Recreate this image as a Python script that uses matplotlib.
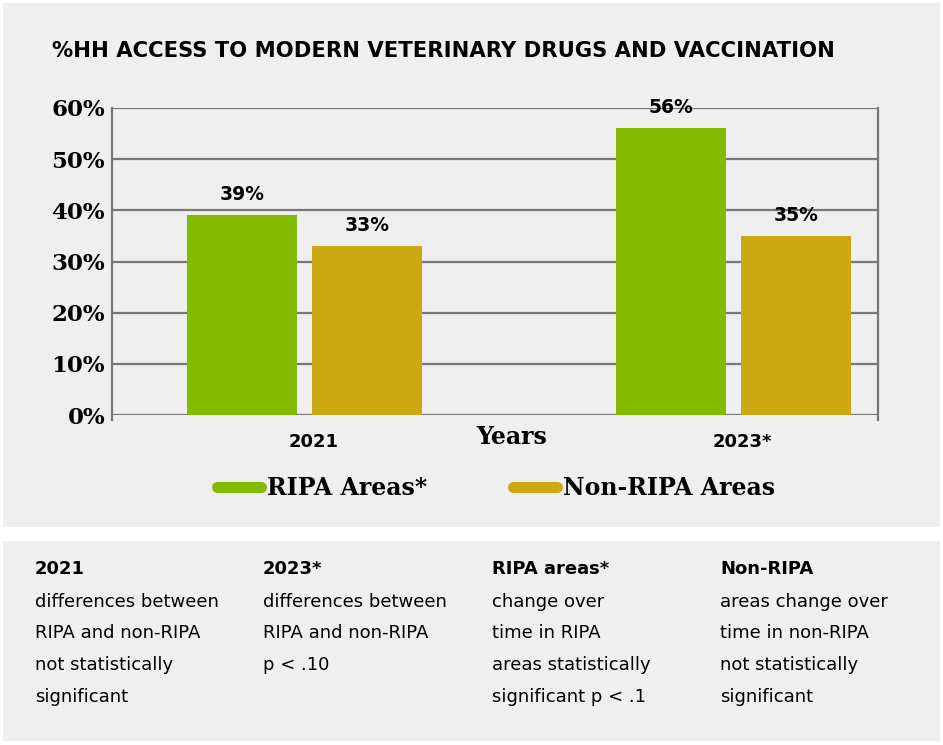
import matplotlib.pyplot as plt
from matplotlib.patches import Rectangle
from matplotlib.lines import Line2D

# values
years = ["2021", "2023*"]
ripa = [39, 56]
non_ripa = [33, 35]
series_names = ["RIPA Areas*", "Non-RIPA Areas"]
colors = ["#84BB00", "#CCA812"]
yticks = [0, 10, 20, 30, 40, 50, 60]

notes_head = ["2021", "2023*", "RIPA areas*", "Non-RIPA"]
notes_body = [
    ["differences between", "RIPA and non-RIPA", "not statistically", "significant"],
    ["differences between", "RIPA and non-RIPA", "p < .10"],
    ["change over", "time in RIPA", "areas statistically", "significant p < .1"],
    ["areas change over", "time in non-RIPA", "not statistically", "significant"],
]

W, H = 943, 745
fig = plt.figure(figsize=(W / 100, H / 100), dpi=100, facecolor="white")

def fx(px):
    return px / W

def fy(py):
    return 1 - py / H

# background panels
fig.patches.append(Rectangle((fx(3), fy(527)), fx(937), 524 / H, transform=fig.transFigure,
                             facecolor="#efefef", edgecolor="none", zorder=-10))
fig.patches.append(Rectangle((fx(3), fy(741)), fx(937), 200 / H, transform=fig.transFigure,
                             facecolor="#efefef", edgecolor="none", zorder=-10))

ax = fig.add_axes([fx(112), fy(415), 766 / W, 307 / H])
ax.set_facecolor("none")
ax.set_zorder(1)

x = [0, 1]
w = 0.256
off = 0.1457
b1 = ax.bar([i - off for i in x], ripa, w, color=colors[0], zorder=3)
b2 = ax.bar([i + off for i in x], non_ripa, w, color=colors[1], zorder=3)

for bars, vals in [(b1, ripa), (b2, non_ripa)]:
    for rect, v in zip(bars, vals):
        ax.text(rect.get_x() + rect.get_width() / 2, v + 2.2, f"{v}%", ha="center", va="bottom",
                fontsize=13.5, fontweight="bold", family="DejaVu Sans", zorder=4)

serif = "DejaVu Serif"
ax.set_xlim(-0.449, 1.337)
ax.set_ylim(0, 60)
ax.set_yticks(yticks)
ax.set_yticklabels([f"{t}%" for t in yticks], fontsize=16.5, fontweight="bold", family=serif)
ax.set_xticks([i + 0.02 for i in x])
ax.set_xticklabels(years, fontsize=13, fontweight="bold", family="DejaVu Sans")
ax.tick_params(axis="both", length=0)
ax.tick_params(axis="y", pad=5)
ax.tick_params(axis="x", pad=13)
ax.grid(axis="y", color="#777777", linewidth=1.6, zorder=1)
for s in ["top", "bottom"]:
    ax.spines[s].set_visible(False)
for s in ["left", "right"]:
    ax.spines[s].set_color("#777777")
    ax.spines[s].set_linewidth(1.6)
    ax.spines[s].set_bounds(-1, 60)

fig.text(fx(512), fy(437), "Years", ha="center", va="center", fontsize=17,
         fontweight="bold", family=serif)

fig.text(fx(52), fy(51), "%HH ACCESS TO MODERN VETERINARY DRUGS AND VACCINATION",
         ha="left", va="center", fontsize=15.2, fontweight="bold", family="DejaVu Sans")

# legend
handles = [Line2D([0], [0], color=c, linewidth=8, solid_capstyle="round") for c in colors]
fig.legend(handles, series_names, loc="center", bbox_to_anchor=(fx(496), fy(488)), ncol=2,
           frameon=False, handlelength=1.9, columnspacing=3.6, handletextpad=0.25,
           prop={"family": serif, "weight": "bold", "size": 17})

# notes below the chart
cols = [35, 263, 492, 720]
for cx, head, body in zip(cols, notes_head, notes_body):
    fig.text(fx(cx), fy(569), head, ha="left", va="center", fontsize=13,
             fontweight="bold", family="DejaVu Sans")
    for j, line in enumerate(body):
        fig.text(fx(cx), fy(602 + j * 31.5), line, ha="left", va="center", fontsize=13,
                 family="DejaVu Sans")

fig.savefig("out.png", dpi=100, facecolor="white")
